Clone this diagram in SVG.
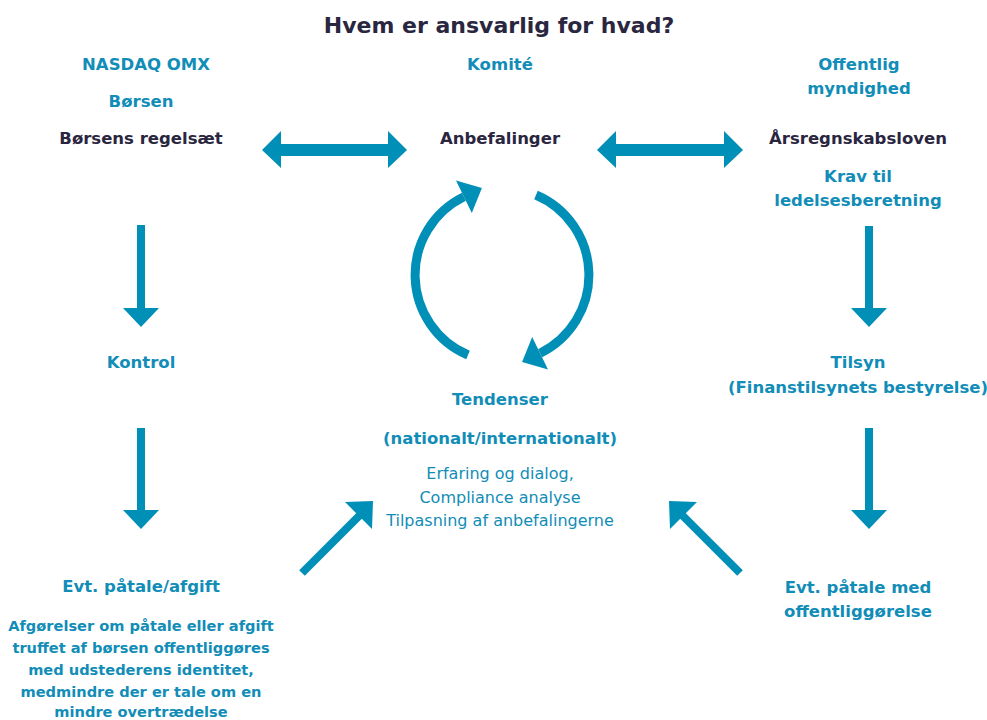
<svg xmlns="http://www.w3.org/2000/svg" width="987" height="720" viewBox="0 0 987 720">
<style>
text{font-family:"DejaVu Sans","Liberation Sans",sans-serif;font-weight:bold;text-anchor:middle}
.t{fill:#2a2640;font-size:22px}
.h{fill:#118db7;font-size:16.5px}
.d{fill:#2a2640;font-size:16.5px}
.s{fill:#118db7;font-size:14.6px}
.m{fill:#118db7;font-size:16px;font-weight:normal}
.a{fill:#008fb7}
.arc{fill:none;stroke:#008fb7;stroke-width:9}
.ln{stroke:#008fb7;stroke-width:8}
</style>
<rect width="987" height="720" fill="#fff"/>
<text class="t" x="499" y="33">Hvem er ansvarlig for hvad?</text>
<g id="boersen">
<text class="h" x="146" y="70">NASDAQ OMX</text>
<text class="h" x="141" y="107">Børsen</text>
<text class="d" x="141" y="144">Børsens regelsæt</text>
</g>
<g id="komite">
<text class="h" x="500" y="70">Komité</text>
<text class="d" x="500" y="144">Anbefalinger</text>
</g>
<g id="myndighed">
<text class="h" x="859" y="70">Offentlig</text>
<text class="h" x="859" y="94">myndighed</text>
<text class="d" x="858" y="144">Årsregnskabsloven</text>
<text class="h" x="858" y="182">Krav til</text>
<text class="h" x="858" y="206">ledelsesberetning</text>
</g>
<g id="kontrol">
<text class="h" x="141" y="368">Kontrol</text>
</g>
<g id="tilsyn">
<text class="h" x="858" y="368">Tilsyn</text>
<text class="h" x="858" y="393">(Finanstilsynets bestyrelse)</text>
</g>
<g id="tendenser">
<text class="h" x="500" y="405">Tendenser</text>
<text class="h" x="500" y="444">(nationalt/internationalt)</text>
<text class="m" x="500" y="479">Erfaring og dialog,</text>
<text class="m" x="500" y="503">Compliance analyse</text>
<text class="m" x="500" y="526">Tilpasning af anbefalingerne</text>
</g>
<g id="paatale-afgift">
<text class="h" x="141" y="592">Evt. påtale/afgift</text>
<text class="s" x="141" y="631">Afgørelser om påtale eller afgift</text>
<text class="s" x="141" y="653">truffet af børsen offentliggøres</text>
<text class="s" x="141" y="675">med udstederens identitet,</text>
<text class="s" x="141" y="697">medmindre der er tale om en</text>
<text class="s" x="141" y="717">mindre overtrædelse</text>
</g>
<g id="paatale-offentlig">
<text class="h" x="858" y="593">Evt. påtale med</text>
<text class="h" x="858" y="617">offentliggørelse</text>
</g>
<g id="connectors">
<polygon class="a" points="262,150 281,131 281,144 388,144 388,131 407,150 388,168 388,156 281,156 281,168"/>
<polygon class="a" points="597,150 616,131 616,144 724,144 724,131 743,150 724,168 724,156 616,156 616,168"/>
<path class="arc" d="M468,355 A87,87 0 0 1 463.9,196.8"/>
<polygon class="a" points="456,180.6 481.9,188 471.8,213"/>
<path class="arc" d="M536,195 A87,87 0 0 1 540.1,353.2"/>
<polygon class="a" points="548,369.4 522.1,362 532.2,337"/>
<rect class="a" x="137" y="225" width="8" height="84"/>
<polygon class="a" points="123,308 159,308 141,327"/>
<rect class="a" x="137" y="428" width="8" height="83"/>
<polygon class="a" points="123,510 159,510 141,529"/>
<rect class="a" x="865" y="226" width="8" height="83"/>
<polygon class="a" points="851,308 887,308 869,327"/>
<rect class="a" x="865" y="428" width="8" height="83"/>
<polygon class="a" points="851,510 887,510 869,529"/>
<line class="ln" x1="302" y1="573" x2="362" y2="513"/>
<polygon class="a" points="345,502 373,501 372,529"/>
<line class="ln" x1="740" y1="573" x2="680" y2="513"/>
<polygon class="a" points="697,502 669,501 670,529"/>
</g>
</svg>
